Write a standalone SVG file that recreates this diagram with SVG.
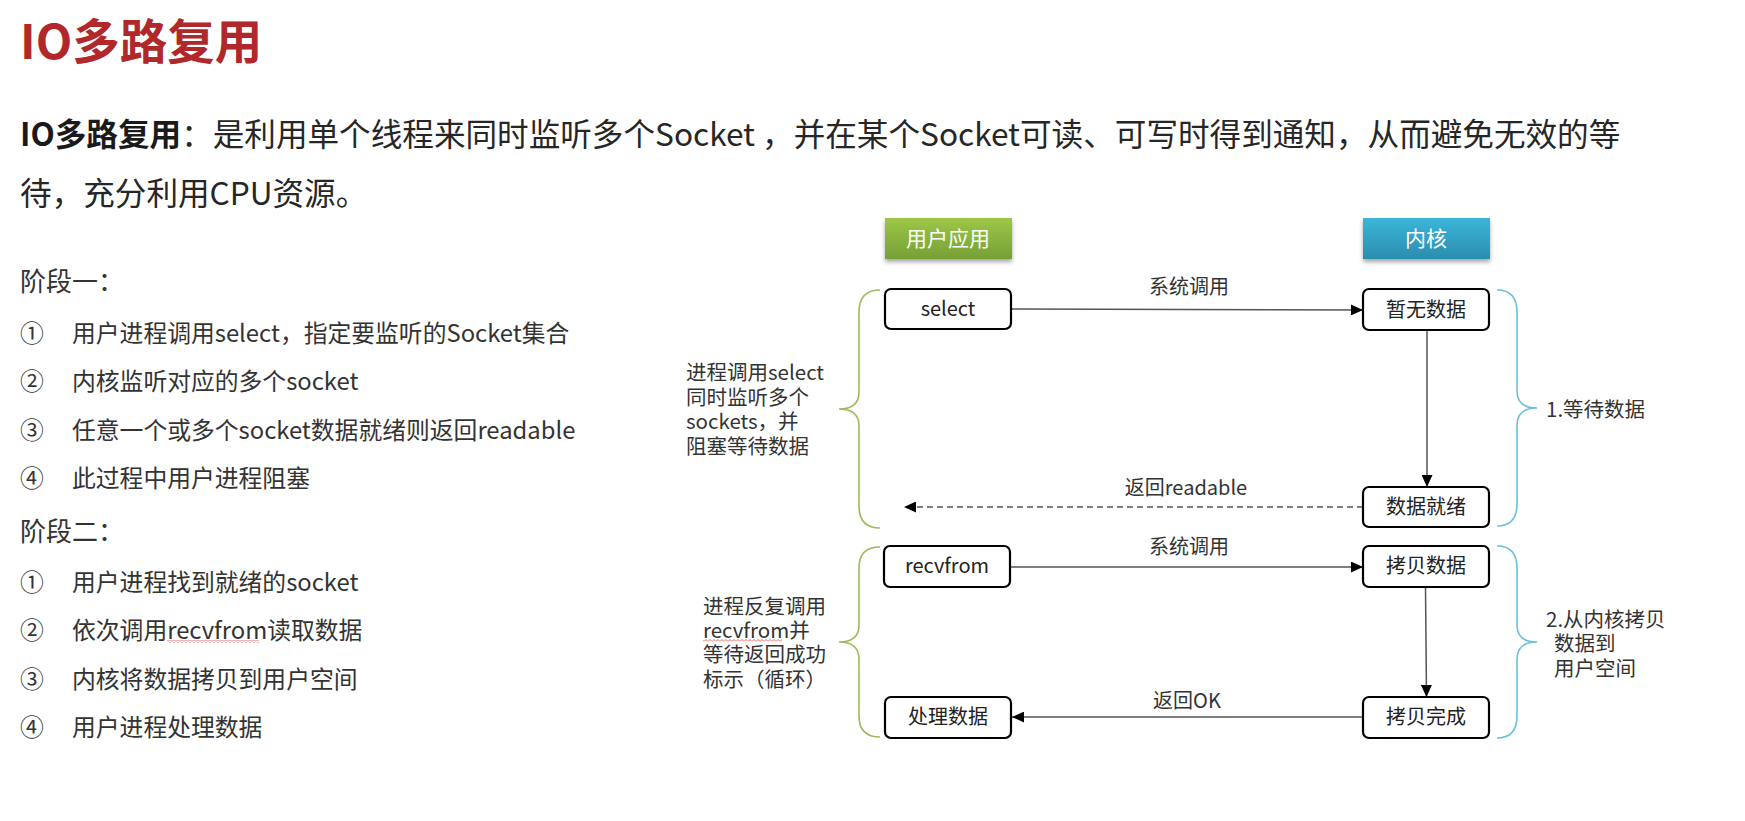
<svg xmlns="http://www.w3.org/2000/svg" width="1745" height="821" viewBox="0 0 1745 821">
<defs>
<style>
text{font-family:"Noto Sans CJK SC","Noto Sans",sans-serif;fill:#333}
.title{font-size:47.5px;font-weight:bold;fill:#B0282A}
.para{font-size:31.6px;fill:#262626}
.stage{font-size:26px}
.item{font-size:23.8px}
.note{font-size:20.5px;fill:#333}
.hdr{font-size:21px;fill:#fff;text-anchor:middle}
.box{fill:#fff;stroke:#000;stroke-width:2.2}
.bt{font-size:20px;fill:#222;text-anchor:middle}
.lbl{font-size:20px;fill:#333;text-anchor:middle}
.conn{fill:none;stroke:#555;stroke-width:1.5}
.brg{fill:none;stroke:#9BBB59;stroke-width:1.6}
.brb{fill:none;stroke:#6CC0DA;stroke-width:1.6}
</style>
<linearGradient id="gGreen" x1="0" y1="0" x2="0" y2="1">
<stop offset="0" stop-color="#9DC647"/><stop offset="1" stop-color="#76A036"/>
</linearGradient>
<linearGradient id="gBlue" x1="0" y1="0" x2="0" y2="1">
<stop offset="0" stop-color="#3AB6D8"/><stop offset="1" stop-color="#2B8DAE"/>
</linearGradient>
<filter id="sh" x="-10%" y="-20%" width="120%" height="160%">
<feDropShadow dx="0" dy="3" stdDeviation="2" flood-color="#000" flood-opacity="0.35"/>
</filter>
<marker id="ah" markerWidth="12" markerHeight="11" refX="12" refY="5.5" orient="auto" markerUnits="userSpaceOnUse">
<path d="M0,0 L12,5.5 L0,11 Z" fill="#000"/>
</marker>
<pattern id="wave" width="4" height="3" patternUnits="userSpaceOnUse">
<path d="M0,2.5 L2,0.5 L4,2.5" fill="none" stroke="#E04040" stroke-width="0.8"/>
</pattern>
</defs>

<g id="header-text">
<text class="title" x="20" y="59">IO多路复用</text>
<text class="para" x="20" y="146"><tspan font-weight="bold" fill="#1a1a1a">IO多路复用</tspan>：是利用单个线程来同时监听多个Socket ，并在某个Socket可读、可写时得到通知，从而避免无效的等</text>
<text class="para" x="20" y="205">待，充分利用CPU资源。</text>
</g>

<g id="stage-list">
<text class="stage" x="20" y="291">阶段一：</text>
<text class="item" x="20" y="342">①</text><text class="item" x="72" y="342">用户进程调用select，指定要监听的Socket集合</text>
<text class="item" x="20" y="390">②</text><text class="item" x="72" y="390">内核监听对应的多个socket</text>
<text class="item" x="20" y="439">③</text><text class="item" x="72" y="439">任意一个或多个socket数据就绪则返回readable</text>
<text class="item" x="20" y="487">④</text><text class="item" x="72" y="487">此过程中用户进程阻塞</text>
<text class="stage" x="20" y="541">阶段二：</text>
<text class="item" x="20" y="591">①</text><text class="item" x="72" y="591">用户进程找到就绪的socket</text>
<text class="item" x="20" y="639">②</text><text class="item" x="72" y="639">依次调用recvfrom读取数据</text>
<rect x="167" y="640" width="92" height="3" fill="url(#wave)"/>
<text class="item" x="20" y="688">③</text><text class="item" x="72" y="688">内核将数据拷贝到用户空间</text>
<text class="item" x="20" y="736">④</text><text class="item" x="72" y="736">用户进程处理数据</text>
</g>

<g id="hdr-user">
<rect x="885" y="218" width="127" height="41" fill="url(#gGreen)" filter="url(#sh)"/>
<text class="hdr" x="948" y="246">用户应用</text>
</g>
<g id="hdr-kernel">
<rect x="1363" y="218" width="127" height="41" fill="url(#gBlue)" filter="url(#sh)"/>
<text class="hdr" x="1426" y="246">内核</text>
</g>

<g id="connectors">
<path class="conn" d="M1011,309 L1363,310" marker-end="url(#ah)"/>
<path class="conn" d="M1427,330 L1427,487" stroke="#000" stroke-width="1.2" marker-end="url(#ah)"/>
<path class="conn" d="M1363,507 L904,507" stroke="#000" stroke-width="1.3" stroke-dasharray="6,4" marker-end="url(#ah)"/>
<path class="conn" d="M1010,567 L1363,567" marker-end="url(#ah)"/>
<path class="conn" d="M1425.5,587 L1426.5,697" stroke="#444" stroke-width="1.3" marker-end="url(#ah)"/>
<path class="conn" d="M1363,717 L1012,717" stroke="#000" stroke-width="1.5" marker-end="url(#ah)"/>
<text class="lbl" x="1189" y="294">系统调用</text>
<text class="lbl" x="1186" y="495">返回readable</text>
<text class="lbl" x="1189" y="554">系统调用</text>
<text class="lbl" x="1187" y="708">返回OK</text>
</g>

<g id="node-select">
<rect class="box" x="885" y="289" width="126" height="40" rx="6"/>
<text class="bt" x="948" y="316">select</text>
</g>
<g id="node-nodata">
<rect class="box" x="1363" y="289" width="126" height="41" rx="6"/>
<text class="bt" x="1426" y="317">暂无数据</text>
</g>
<g id="node-ready">
<rect class="box" x="1363" y="487" width="126" height="40" rx="6"/>
<text class="bt" x="1426" y="514">数据就绪</text>
</g>
<g id="node-recvfrom">
<rect class="box" x="884" y="546" width="126" height="41" rx="6"/>
<text class="bt" x="947" y="573">recvfrom</text>
</g>
<g id="node-copy">
<rect class="box" x="1363" y="546" width="126" height="41" rx="6"/>
<text class="bt" x="1426" y="573">拷贝数据</text>
</g>
<g id="node-process">
<rect class="box" x="885" y="697" width="126" height="41" rx="6"/>
<text class="bt" x="948" y="724">处理数据</text>
</g>
<g id="node-copydone">
<rect class="box" x="1363" y="697" width="126" height="41" rx="6"/>
<text class="bt" x="1426" y="724">拷贝完成</text>
</g>

<g id="brace-left-1">
<path class="brg" d="M880,290 Q859,290 859,312 L859,392 Q859,409 839,409 Q859,409 859,426 L859,506 Q859,528 880,528"/>
<text class="note" x="686" y="380">进程调用select</text>
<text class="note" x="686" y="405">同时监听多个</text>
<text class="note" x="686" y="429">sockets，并</text>
<text class="note" x="686" y="454">阻塞等待数据</text>
</g>
<g id="brace-left-2">
<path class="brg" d="M880,547 Q859,547 859,568 L859,625 Q859,642 839,642 Q859,642 859,659 L859,716 Q859,737 880,737"/>
<text class="note" x="703" y="614">进程反复调用</text>
<text class="note" x="703" y="638">recvfrom并</text>
<rect x="703" y="639" width="79" height="3" fill="url(#wave)"/>
<text class="note" x="703" y="662">等待返回成功</text>
<text class="note" x="703" y="687">标示（循环）</text>
</g>
<g id="brace-right-1">
<path class="brb" d="M1497,290 Q1517,290 1517,312 L1517,391 Q1517,408 1537,408 Q1517,408 1517,425 L1517,504 Q1517,526 1497,526"/>
<text class="note" x="1546" y="417">1.等待数据</text>
</g>
<g id="brace-right-2">
<path class="brb" d="M1497,546 Q1517,546 1517,568 L1517,625 Q1517,642 1537,642 Q1517,642 1517,659 L1517,716 Q1517,738 1497,738"/>
<text class="note" x="1546" y="627">2.从内核拷贝</text>
<text class="note" x="1554" y="651">数据到</text>
<text class="note" x="1554" y="676">用户空间</text>
</g>
</svg>
